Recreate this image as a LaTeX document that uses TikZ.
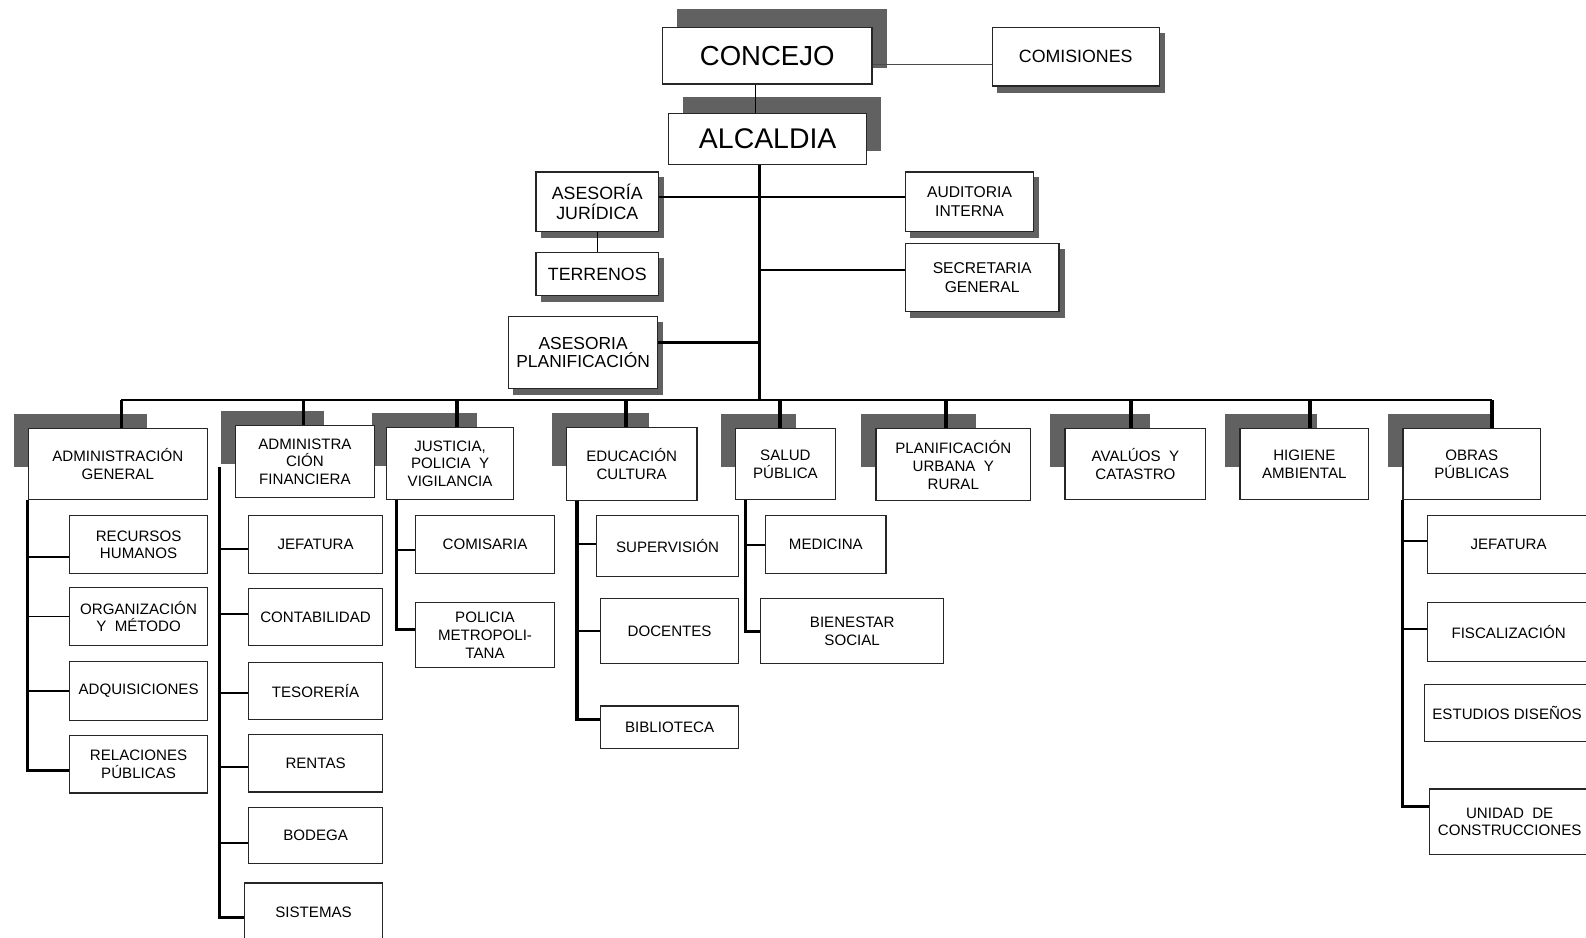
\documentclass[tikz,border=0pt]{standalone}
\usepackage{fontspec}
\setmainfont{Liberation Sans}
\usetikzlibrary{backgrounds}

\tikzset{
  orgbox/.style={draw=black!85,line width=0.7pt,fill=white,inner sep=1pt,align=center,
    font=\fontsize{8.5}{10}\selectfont},
  sz/.style 2 args={minimum width=#1*0.02cm,minimum height=#2*0.02cm},
  shadowfill/.style={fill=black!62},
  wire/.style={line width=1.1pt},
  vwire/.style={line width=1.8pt},
  trunk/.style={line width=2pt},
}

\begin{document}
\begin{tikzpicture}[x=0.02cm,y=-0.02cm]
\useasboundingbox (0,0) rectangle (1568,927);
%---nivel superior-------------------------------------------
\node[orgbox,sz={207}{56},font=\fontsize{15.5}{18}\selectfont] (con) at (758.5,55) {CONCEJO};
\node[orgbox,sz={165}{58},font=\fontsize{10}{12}\selectfont] (com) at (1063.5,56) {COMISIONES};
\node[orgbox,sz={196}{51},font=\fontsize{16}{18}\selectfont] (alc) at (759,137.5) {ALCALDIA};
\node[orgbox,sz={121}{59},font=\fontsize{10}{11}\selectfont] (aj) at (590.5,199.5) {ASESORÍA\\JURÍDICA};
\node[orgbox,sz={121}{42},font=\fontsize{10}{11}\selectfont] (ter) at (590.5,271) {TERRENOS};
\node[orgbox,sz={127}{59},font=\fontsize{8.8}{10.5}\selectfont] (ai) at (958.5,199.5) {AUDITORIA\\INTERNA};
\node[orgbox,sz={152}{67},font=\fontsize{8.8}{10.5}\selectfont] (sg) at (971,274.5) {SECRETARIA\\GENERAL};
\node[orgbox,sz={147}{71},font=\fontsize{9.8}{8}\selectfont] (ap) at (576.5,348.5) {ASESORIA\\PLANIFICACIÓN};
%---direcciones------------------------------------------------
\node[orgbox,sz={177}{70}] (ag) at (116.5,459) {ADMINISTRACIÓN\\GENERAL};
\node[orgbox,sz={137}{71}] (af) at (301.5,456.5) {ADMINISTRA\\CIÓN\\FINANCIERA};
\node[orgbox,sz={126}{71}] (jus) at (445,458.5) {JUSTICIA,\\POLICIA \ Y\\VIGILANCIA};
\node[orgbox,sz={129}{72}] (edu) at (624.5,459) {EDUCACIÓN\\CULTURA};
\node[orgbox,sz={99}{70}] (sal) at (776.5,459) {SALUD\\PÚBLICA};
\node[orgbox,sz={153}{71}] (pla) at (942.5,459.5) {PLANIFICACIÓN\\URBANA \ Y\\RURAL};
\node[orgbox,sz={139}{70}] (ava) at (1122.5,459) {AVALÚOS \ Y\\CATASTRO};
\node[orgbox,sz={127}{70}] (hig) at (1289.5,459) {HIGIENE\\AMBIENTAL};
\node[orgbox,sz={136}{70}] (obr) at (1455,459) {OBRAS\\PÚBLICAS};
%---departamentos----------------------------------------------
\node[orgbox,sz={136}{57}] (rh) at (137,538.5) {RECURSOS\\HUMANOS};
\node[orgbox,sz={136}{57}] (om) at (137,609.5) {ORGANIZACIÓN\\Y \ MÉTODO};
\node[orgbox,sz={136}{58}] (adq) at (137,683) {ADQUISICIONES};
\node[orgbox,sz={136}{57}] (rp) at (137,755.5) {RELACIONES\\PÚBLICAS};
\node[orgbox,sz={132}{57}] (jef1) at (312,538.5) {JEFATURA};
\node[orgbox,sz={132}{56}] (cont) at (312,610) {CONTABILIDAD};
\node[orgbox,sz={132}{56}] (tes) at (312,683) {TESORERÍA};
\node[orgbox,sz={132}{57}] (ren) at (312,754.5) {RENTAS};
\node[orgbox,sz={132}{56}] (bod) at (312,826) {BODEGA};
\node[orgbox,sz={136}{57}] (sis) at (310,901.5) {SISTEMAS};
\node[orgbox,sz={137}{57}] (comi) at (479.5,538.5) {COMISARIA};
\node[orgbox,sz={137}{64}] (pm) at (479.5,628) {POLICIA\\METROPOLI-\\TANA};
\node[orgbox,sz={140}{60}] (sup) at (660,540) {SUPERVISIÓN};
\node[orgbox,sz={136}{64}] (doc) at (662,624) {DOCENTES};
\node[orgbox,sz={136}{42}] (bib) at (662,719) {BIBLIOTECA};
\node[orgbox,sz={119}{57}] (med) at (816.5,538.5) {MEDICINA};
\node[orgbox,sz={181}{64}] (bs) at (842.5,624) {BIENESTAR\\SOCIAL};
\node[orgbox,sz={161}{57}] (jef2) at (1491.5,538.5) {JEFATURA};
\node[orgbox,sz={161}{58}] (fis) at (1491.5,625) {FISCALIZACIÓN};
\node[orgbox,sz={164}{56}] (ed) at (1490,705) {ESTUDIOS DISEÑOS};
\node[orgbox,sz={159}{65}] (uc) at (1492.5,812.5) {UNIDAD \ DE\\CONSTRUCCIONES};
%---sombras----------------------------------------------------
\begin{scope}[on background layer]
\fill[shadowfill] ([shift={(15,-17)}]con.north west) rectangle ++(208,58);
\fill[shadowfill] ([shift={(15,-15)}]alc.north west) rectangle ++(196,53);
\foreach \n in {com,aj,ter,ai,sg,ap}
  \fill[shadowfill] ([shift={(5,6)}]\n.north west) rectangle ([shift={(5,6)}]\n.south east);
\foreach \n/\w in {ag/132,af/102,jus/104,edu/96,sal/75,pla/114,ava/99,hig/91,obr/103}
  \fill[shadowfill] ([shift={(-14,-14)}]\n.north west) rectangle ++(\w,52);
\end{scope}
%---lineas superiores------------------------------------------
\draw[line width=0.6pt,black!70] (con.east) ++(0,9) coordinate (c1) -- (c1 -| com.west);
\draw[line width=1pt] (con.south) ++(-11.5,0) coordinate (c2) -- (c2 |- alc.north);
\coordinate (bus) at (751,395);
\draw[trunk] (alc.south) ++(-8,0) coordinate (t0) -- (t0 |- bus);
\draw[line width=1.4pt] (aj.east) ++(0,-4.5) coordinate (c3) -- (c3 -| ai.west);
\draw[line width=0.8pt] (aj.south) -- (ter.north);
\draw[line width=1.4pt] (sg.west) ++(0,-7.5) coordinate (c4) -- (c4 -| t0);
\draw[vwire] (ap.east) ++(0,-9.5) coordinate (c5) -- (c5 -| t0);
%---barra y bajantes-------------------------------------------
\foreach \n/\dx in {ag/3.5,af/-1.5,jus/7,edu/-5.5,sal/-5.5,pla/-7.5,ava/-4.5,hig/5.5,obr/20}
  \draw[trunk] (\n.north) ++(\dx,0) coordinate (d\n) -- (d\n |- bus);
\draw[wire] (dag |- bus) -- (dobr |- bus);
%---ADMINISTRACION GENERAL-------------------------------------
\path (rp.west) ++(0,6.5) coordinate (e1);
\draw[vwire] (ag.south west) |- (e1);
\foreach \c/\dy in {rh/12.5,om/0,adq/0}
  \draw[wire] (\c.west) ++(0,\dy) coordinate (k) -- (k -| ag.south west);
%---ADMINISTRACION FINANCIERA----------------------------------
\path (af.north west) ++(-15,41) coordinate (v2);
\path (sis.west) ++(0,5.5) coordinate (e2);
\draw[vwire] (v2) |- (e2);
\foreach \c/\dy in {jef1/4.5,cont/-3,tes/2,ren/3.5,bod/7}
  \draw[wire] (\c.west) ++(0,\dy) coordinate (k) -- (k -| v2);
%---JUSTICIA---------------------------------------------------
\path (jus.south west) ++(11,0) coordinate (v3);
\path (pm.west) ++(0,-6) coordinate (e3);
\draw[vwire] (v3) |- (e3);
\draw[wire] (comi.west) ++(0,5.5) coordinate (k) -- (k -| v3);
%---EDUCACION--------------------------------------------------
\path (edu.south west) ++(11,0) coordinate (v4);
\path (bib.west) ++(0,-8) coordinate (e4);
\draw[vwire] (v4) |- (e4);
\foreach \c/\dy in {sup/-2,doc/0}
  \draw[wire] (\c.west) ++(0,\dy) coordinate (k) -- (k -| v4);
%---SALUD------------------------------------------------------
\path (sal.south west) ++(11,0) coordinate (v5);
\draw[vwire] (v5) |- (bs.west);
\draw[wire] (med.west) -- (med.west -| v5);
%---OBRAS PUBLICAS---------------------------------------------
\path (uc.west) ++(0,-15.5) coordinate (e6);
\draw[vwire] (obr.south west) |- (e6);
\foreach \c/\dy in {jef2/-3.5,fis/-3}
  \draw[wire] (\c.west) ++(0,\dy) coordinate (k) -- (k -| obr.south west);
\end{tikzpicture}
\end{document}
